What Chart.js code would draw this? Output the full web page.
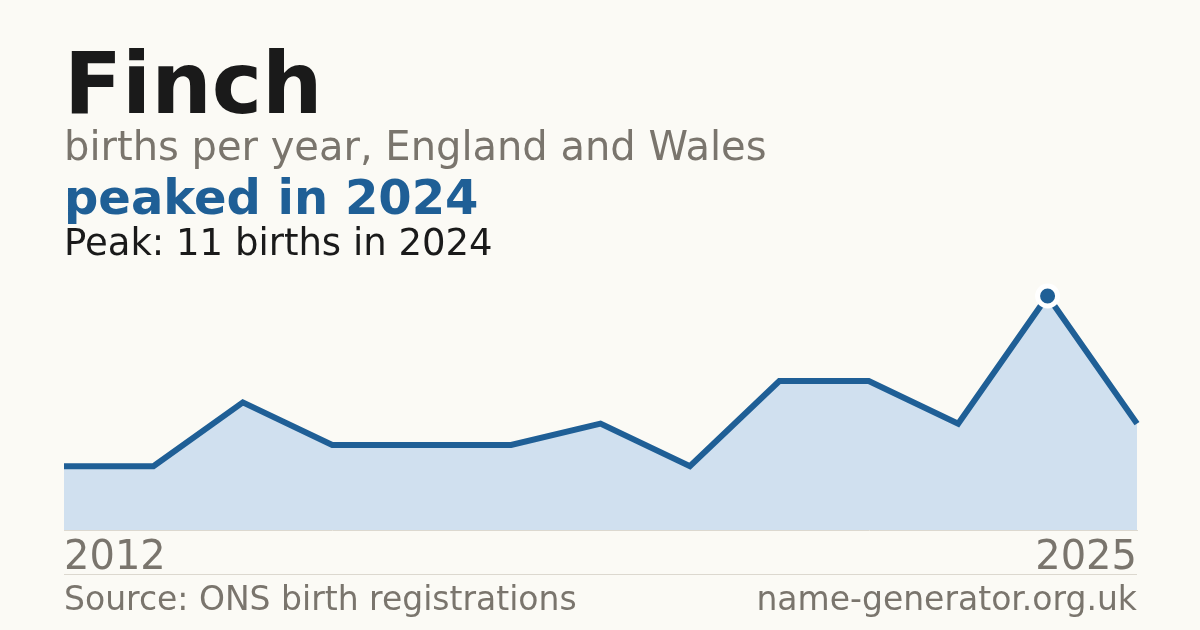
<!DOCTYPE html>
<html>
<head>
<meta charset="utf-8">
<script src="https://cdn.jsdelivr.net/npm/chart.js@4"></script>
<style>
  body { margin: 0; background: #fbfaf5; }
  #wrap { position: relative; width: 1200px; height: 630px; overflow: hidden; font-family: "DejaVu Sans", sans-serif; }
  #wrap div { position: absolute; line-height: 1; white-space: nowrap; }
  #myChart { position: absolute; left: 0; top: 0; }
  .title { left: 64px; top: 41px; font-size: 85px; font-weight: bold; color: #1a1a1a; }
  .sub { left: 64px; top: 126px; font-size: 40px; color: #7a756d; }
  .head { left: 64px; top: 173px; font-size: 48px; font-weight: bold; color: #1f5f96; }
  .peak { left: 64px; top: 224px; font-size: 37px; color: #1a1a1a; }
  .rule { left: 64px; top: 574px; width: 1073px; height: 1px; background: #dcd8cf; }
  .src { left: 64px; top: 582px; font-size: 33px; color: #7a756d; }
  .site { right: 63px; top: 582px; font-size: 33px; color: #7a756d; }
</style>
</head>
<body>
<div id="wrap">
  <canvas id="myChart" width="1200" height="630"></canvas>
  <div class="title">Finch</div>
  <div class="sub">births per year, England and Wales</div>
  <div class="head">peaked in 2024</div>
  <div class="peak">Peak: 11 births in 2024</div>
  <div class="rule"></div>
  <div class="src">Source: ONS birth registrations</div>
  <div class="site">name-generator.org.uk</div>
</div>
<script>
// years with data (2020 not in the series)
const years = ['2012', '2013', '2014', '2015', '2016', '2017', '2018', '2019', '2021', '2022', '2023', '2024', '2025'];
const births = [3, 3, 6, 4, 4, 4, 5, 3, 7, 7, 5, 11, 5];
const shownTicks = ['2012', '2025'];

const peakValue = Math.max(...births);
const ctx = document.getElementById('myChart').getContext('2d');

const chart = new Chart(ctx, {
    type: 'line',
    data: {
        labels: years,
        datasets: [{
            data: births,
            borderColor: '#1f5f96',
            borderWidth: 6,
            backgroundColor: '#d0e0ef',
            fill: 'origin',
            tension: 0,
            clip: false,
            pointRadius: births.map(v => v === peakValue ? 10 : 0),
            pointHoverRadius: 0,
            pointBackgroundColor: '#1f5f96',
            pointBorderColor: '#ffffff',
            pointBorderWidth: 5
        }]
    },
    options: {
        responsive: false,
        animation: false,
        events: [],
        layout: { padding: { left: 64, right: 63, top: 296, bottom: 42 } },
        plugins: { legend: { display: false }, tooltip: { enabled: false } },
        scales: {
            x: {
                offset: false,
                grid: { display: false, drawTicks: false },
                border: { display: true, color: '#dcd8cf', width: 1 },
                ticks: {
                    autoSkip: false,
                    maxRotation: 0,
                    align: 'inner',
                    padding: 5,
                    color: '#7a756d',
                    font: { family: 'DejaVu Sans', size: 40 },
                    callback: function (value, index) {
                        const label = this.getLabelForValue(value);
                        return shownTicks.includes(label) ? label : '';
                    }
                }
            },
            y: { display: false, min: 0, max: peakValue }
        }
    }
});
</script>
</body>
</html>
